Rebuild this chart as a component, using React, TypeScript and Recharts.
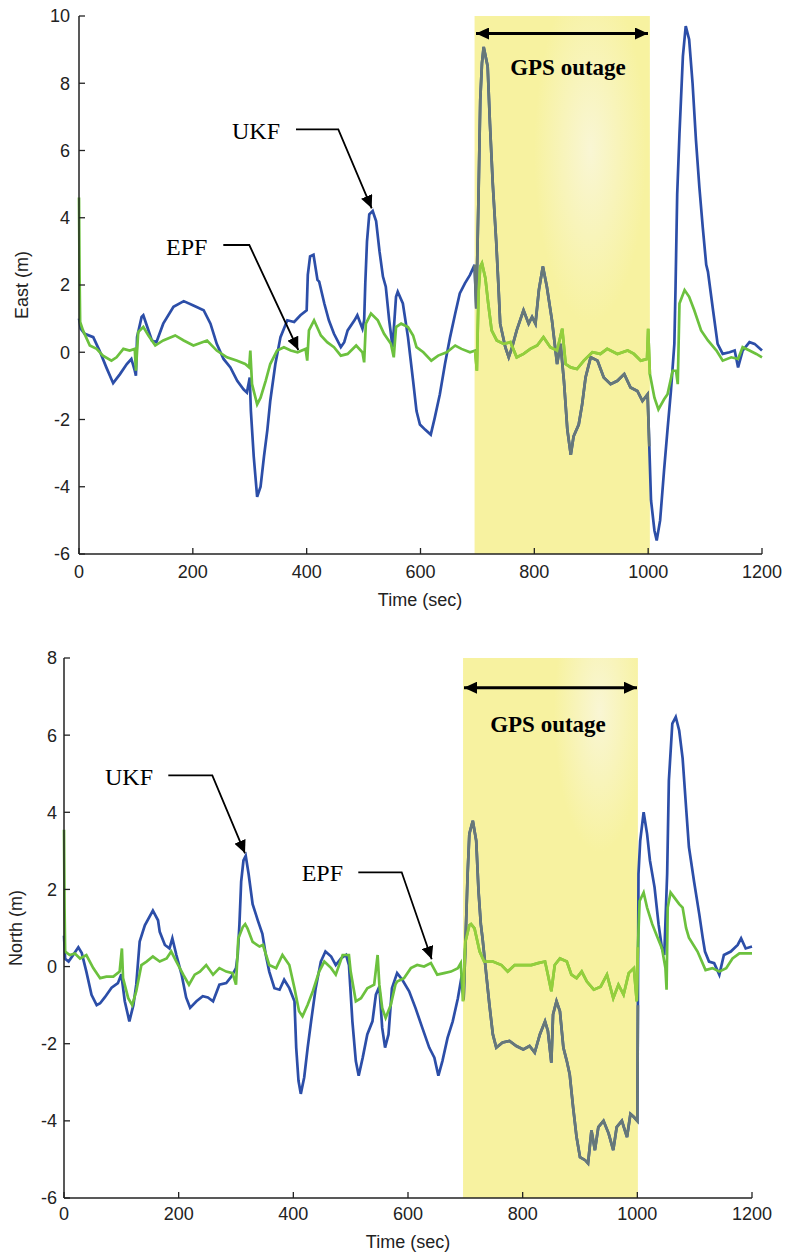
import { LineChart, Line, XAxis, YAxis, ReferenceArea } from 'recharts'

const timeTicks = [0, 200, 400, 600, 800, 1000, 1200]
const eastTicks = [-6, -4, -2, 0, 2, 4, 6, 8, 10]
const northTicks = [-6, -4, -2, 0, 2, 4, 6, 8]

// GPS outage windows (sec)
const eastOutage = [695, 1003]
const northOutage = [696, 1001]

// East error, UKF
const eastUkfTime = [
  0, 3, 10, 25, 36, 48, 60, 72, 84, 92, 98, 100, 102, 110, 113, 120, 128, 136, 148, 166, 184, 201, 219,
  231, 242, 254, 266, 278, 289, 295, 300, 302, 307, 313, 319, 325, 331, 336, 345, 354, 366, 378, 389, 400,
  402, 406, 412, 419, 422, 431, 439, 448, 460, 466, 472, 484, 489, 498, 501, 503, 506, 510, 516, 522, 528,
  534, 539, 545, 551, 557, 560, 569, 578, 587, 593, 599, 608, 618, 625, 634, 643, 652, 661, 669, 678, 687,
  695, 698, 702, 705, 708, 711, 718, 722, 727, 733, 737, 740, 749, 755, 761, 769, 781, 790, 796, 802, 808,
  815, 822, 831, 840, 846, 852, 858, 864, 869, 878, 884, 890, 899, 911, 922, 934, 946, 958, 969, 981, 990,
  999, 1002, 1005, 1011, 1015, 1021, 1028, 1034, 1040, 1046, 1048, 1051, 1055, 1061, 1066, 1072, 1078,
  1084, 1090, 1096, 1102, 1105, 1114, 1122, 1131, 1143, 1152, 1158, 1166, 1178, 1187, 1200,
]
const eastUkfValue = [
  1.0, 0.7, 0.55, 0.45, 0.05, -0.45, -0.92, -0.65, -0.35, -0.2, -0.55, -0.7, 0.45, 1.05, 1.1, 0.75, 0.35,
  0.3, 0.85, 1.35, 1.52, 1.39, 1.25, 0.85, 0.25, -0.2, -0.45, -0.85, -1.1, -1.2, -0.75, -1.75, -3.1, -4.3,
  -4.0, -3.1, -2.3, -1.45, -0.35, 0.45, 0.95, 0.9, 1.1, 1.25, 2.3, 2.85, 2.9, 2.15, 2.1, 1.45, 0.95, 0.55,
  0.15, 0.3, 0.65, 0.95, 1.1, 0.7, 0.95, 2.05, 3.3, 4.1, 4.2, 3.9, 3.0, 2.25, 1.95, 0.95, 0.15, 1.65, 1.8,
  1.45, 0.45, -0.85, -1.75, -2.15, -2.3, -2.45, -1.95, -1.25, -0.35, 0.45, 1.15, 1.75, 2.05, 2.3, 2.6, 1.3,
  4.7, 7.5, 8.6, 9.08, 8.5, 6.8, 5.0, 3.3, 1.95, 0.85, 0.15, -0.15, 0.15, 0.65, 1.25, 0.85, 1.05, 0.85,
  1.85, 2.55, 1.95, 0.95, -0.35, 0.25, -0.85, -2.3, -3.05, -2.5, -2.15, -1.55, -0.75, -0.15, -0.25, -0.75,
  -0.95, -0.85, -0.65, -1.05, -1.15, -1.45, -1.25, -2.8, -4.4, -5.3, -5.6, -5.0, -3.5, -2.3, -1.15, 0.25,
  1.85, 4.7, 6.5, 8.8, 9.7, 9.3, 8.0, 6.3, 4.9, 3.7, 2.6, 2.4, 1.25, 0.25, -0.05, 0.0, 0.05, -0.45, 0.05,
  0.3, 0.25, 0.05,
]

// East error, EPF
const eastEpfTime = [
  0, 1, 2, 7, 19, 31, 42, 57, 66, 78, 89, 98, 100, 104, 113, 122, 134, 148, 169, 184, 201, 225, 242, 260,
  278, 292, 299, 301, 304, 313, 319, 328, 336, 348, 360, 372, 384, 398, 401, 404, 413, 425, 436, 448, 460,
  472, 487, 498, 501, 504, 513, 525, 536, 548, 553, 557, 566, 578, 587, 593, 605, 619, 631, 646, 661, 672,
  687, 696, 699, 702, 705, 708, 714, 719, 725, 734, 746, 758, 769, 781, 793, 805, 816, 828, 840, 849, 855,
  864, 875, 887, 902, 916, 928, 946, 964, 975, 987, 998, 1000, 1003, 1011, 1018, 1028, 1034, 1043, 1049,
  1052, 1055, 1064, 1072, 1081, 1093, 1105, 1120, 1131, 1146, 1158, 1166, 1178, 1190, 1200,
]
const eastEpfValue = [
  4.6, 2.3, 0.9, 0.65, 0.2, 0.1, -0.1, -0.25, -0.15, 0.1, 0.05, 0.1, -0.55, 0.6, 0.75, 0.5, 0.2, 0.35, 0.5,
  0.35, 0.2, 0.35, 0.05, -0.15, -0.25, -0.35, -0.45, 0.05, -0.95, -1.55, -1.35, -0.85, -0.35, 0.05, 0.15,
  0.05, 0.0, 0.1, -0.25, 0.65, 0.95, 0.5, 0.3, 0.15, -0.1, -0.05, 0.2, 0.0, -0.3, 0.85, 1.15, 0.95, 0.55,
  0.25, -0.15, 0.75, 0.85, 0.75, 0.5, 0.15, 0.0, -0.25, -0.1, 0.0, 0.2, 0.1, 0.0, 0.05, -0.55, 1.8, 2.55,
  2.65, 2.2, 1.45, 0.65, 0.35, 0.25, 0.3, -0.15, -0.05, 0.1, 0.2, 0.45, 0.15, 0.05, 0.7, -0.35, -0.45, -0.5,
  -0.25, 0.0, -0.05, 0.1, -0.05, 0.05, -0.05, -0.25, -0.2, 0.7, -0.65, -1.35, -1.7, -1.4, -1.25, -0.55,
  -0.55, -0.95, 1.45, 1.85, 1.65, 1.25, 0.65, 0.35, 0.05, -0.25, -0.15, -0.2, 0.15, 0.05, -0.05, -0.15,
]

// North error, UKF
const northUkfTime = [
  0, 2, 8, 16, 25, 31, 39, 48, 57, 63, 71, 83, 94, 100, 106, 114, 121, 126, 132, 141, 155, 164, 167, 176,
  184, 189, 196, 205, 213, 220, 231, 242, 251, 260, 271, 283, 292, 300, 303, 306, 309, 313, 317, 322, 329,
  338, 346, 352, 358, 367, 376, 384, 393, 402, 405, 409, 413, 419, 425, 431, 439, 448, 456, 466, 474, 483,
  492, 497, 503, 509, 514, 521, 529, 538, 544, 550, 555, 560, 566, 572, 581, 590, 602, 613, 625, 637, 646,
  653, 660, 669, 678, 687, 694, 697, 700, 704, 707, 713, 719, 723, 727, 730, 736, 742, 748, 754, 765, 777,
  789, 801, 812, 821, 830, 839, 844, 850, 853, 859, 865, 871, 877, 882, 888, 894, 900, 909, 914, 920, 926,
  932, 941, 950, 958, 964, 973, 982, 988, 994, 1000, 1001, 1002, 1005, 1011, 1017, 1022, 1030, 1037, 1043,
  1047, 1052, 1055, 1061, 1067, 1073, 1079, 1085, 1090, 1099, 1108, 1114, 1118, 1125, 1134, 1143, 1151,
  1163, 1175, 1181, 1189, 1200,
]
const northUkfValue = [
  0.8, 0.2, 0.13, 0.3, 0.5, 0.35, -0.13, -0.73, -1.0, -0.95, -0.8, -0.55, -0.43, -0.2, -0.9, -1.42, -1.0,
  -0.47, 0.65, 1.07, 1.45, 1.2, 0.9, 0.56, 0.47, 0.73, 0.3, -0.2, -0.8, -1.07, -0.9, -0.77, -0.8, -0.9,
  -0.47, -0.43, -0.26, -0.04, 0.3, 1.1, 2.2, 2.75, 2.87, 2.4, 1.62, 1.2, 0.85, 0.3, -0.13, -0.56, -0.6,
  -0.34, -0.56, -0.9, -2.1, -2.96, -3.3, -2.87, -2.1, -1.42, -0.56, 0.13, 0.39, 0.26, 0.04, 0.21, 0.3, 0.04,
  -1.42, -2.45, -2.83, -2.36, -1.76, -1.42, -0.73, -0.52, -1.59, -2.1, -1.76, -0.56, -0.17, -0.34, -0.64,
  -1.07, -1.59, -2.1, -2.36, -2.83, -2.45, -1.85, -1.42, -0.82, -0.21, -0.85, 0.5, 2.4, 3.44, 3.78, 3.26,
  1.96, 1.1, 0.73, -0.13, -0.99, -1.76, -2.1, -1.97, -1.93, -2.06, -2.15, -2.06, -2.23, -1.76, -1.42, -1.67,
  -2.49, -1.24, -0.9, -1.16, -2.1, -2.45, -2.79, -3.65, -4.42, -4.94, -5.02, -5.1, -4.25, -4.76, -4.16,
  -4.0, -4.33, -4.76, -4.16, -4.0, -4.42, -3.82, -3.9, -4.0, -1.0, 2.4, 3.26, 4.0, 3.44, 2.75, 2.06, 1.1,
  0.47, 0.3, 2.4, 4.82, 6.3, 6.47, 6.12, 5.4, 4.13, 3.1, 2.2, 1.36, 0.75, 0.39, 0.13, 0.09, -0.21, 0.3,
  0.39, 0.56, 0.73, 0.47, 0.52,
]

// North error, EPF
const northEpfTime = [
  0, 1, 2, 10, 19, 28, 39, 51, 63, 74, 86, 97, 101, 103, 112, 119, 126, 135, 144, 155, 167, 179, 187, 196,
  208, 218, 228, 237, 248, 260, 271, 283, 294, 300, 304, 312, 316, 320, 329, 341, 347, 358, 370, 381, 393,
  402, 410, 416, 425, 434, 445, 454, 466, 474, 486, 497, 500, 509, 518, 529, 541, 547, 550, 555, 561, 570,
  578, 581, 593, 605, 616, 628, 640, 651, 663, 675, 687, 692, 696, 700, 707, 710, 716, 725, 733, 748, 763,
  774, 786, 801, 815, 827, 839, 844, 850, 856, 865, 877, 885, 894, 903, 912, 924, 936, 947, 958, 967, 976,
  985, 994, 999, 1001, 1004, 1011, 1017, 1026, 1034, 1043, 1049, 1051, 1053, 1058, 1064, 1073, 1079, 1085,
  1090, 1105, 1119, 1131, 1143, 1155, 1166, 1178, 1189, 1200,
]
const northEpfValue = [
  3.55, 1.5, 0.39, 0.3, 0.34, 0.21, 0.3, -0.04, -0.3, -0.26, -0.26, -0.13, 0.47, -0.3, -0.82, -1.0, -0.64,
  0.04, 0.13, 0.26, 0.13, 0.21, 0.39, 0.13, -0.21, -0.47, -0.21, -0.13, 0.04, -0.21, -0.04, -0.13, -0.17,
  -0.47, 0.73, 1.03, 1.1, 0.99, 0.64, 0.52, 0.56, 0.04, -0.04, 0.3, 0.04, -0.56, -1.16, -1.29, -0.99, -0.64,
  -0.13, 0.13, -0.04, -0.21, 0.3, 0.3, -0.13, -0.9, -0.82, -0.56, -0.47, 0.3, -0.47, -1.07, -1.33, -0.99,
  -0.47, -0.39, -0.3, -0.04, 0.04, 0.0, 0.09, -0.21, -0.17, -0.13, -0.04, 0.09, -0.9, 0.64, 1.07, 1.1, 0.99,
  0.39, 0.13, 0.13, 0.04, -0.13, 0.04, 0.04, 0.04, 0.09, 0.13, -0.21, -0.64, 0.04, 0.21, 0.13, -0.21, -0.3,
  -0.13, -0.39, -0.6, -0.52, -0.21, -0.82, -0.47, -0.73, -0.17, -0.04, -0.9, 0.5, 1.7, 1.92, 1.53, 1.1,
  0.8, 0.47, -0.04, -0.6, 1.53, 1.92, 1.8, 1.62, 1.53, 1.0, 0.75, 0.39, -0.09, -0.04, -0.13, -0.04, 0.21,
  0.34, 0.34, 0.34,
]

const UKF_COLOR = '#2c4ea8'
const EPF_COLOR = '#6cc13e'
const UKF_SHADED = '#677878'
const EPF_SHADED = '#94cf3c'
const AXIS_COLOR = '#222'
const SANS = '"Liberation Sans", Arial, sans-serif'
const SERIF = '"Liberation Serif", "Times New Roman", serif'

type Pt = { t: number; v: number }

function toPoints(time: number[], value: number[]): Pt[] {
  return time.map((t, i) => ({ t, v: value[i] }))
}

function inWindow(pts: Pt[], win: number[]) {
  return pts.filter((p) => p.t >= win[0] && p.t <= win[1])
}

interface PanelProps {
  width: number
  height: number
  margin: { top: number; right: number; bottom: number; left: number }
  yAxisWidth: number
  xAxisHeight: number
  xTickMargin: number
  yTickMargin: number
  yDomain: [number, number]
  yTicks: number[]
  outage: number[]
  fillId: string
  ukf: Pt[]
  epf: Pt[]
}

function ErrorPanel(p: PanelProps) {
  const tickStyle = { fill: AXIS_COLOR, fontSize: 18, fontFamily: SANS }
  const axisLine = { stroke: AXIS_COLOR, strokeWidth: 1.5 }
  const tickLine = { stroke: AXIS_COLOR, strokeWidth: 1.3 }
  return (
    <LineChart width={p.width} height={p.height} margin={p.margin}>
      <XAxis
        dataKey="t"
        type="number"
        domain={[0, 1200]}
        ticks={timeTicks}
        allowDuplicatedCategory={false}
        height={p.xAxisHeight}
        tickSize={-6}
        tickMargin={p.xTickMargin}
        tick={tickStyle}
        axisLine={axisLine}
        tickLine={tickLine}
      />
      <XAxis
        xAxisId="top"
        orientation="top"
        type="number"
        domain={[0, 1200]}
        ticks={timeTicks}
        height={0}
        tickSize={-6}
        tick={false}
        axisLine={axisLine}
        tickLine={tickLine}
      />
      <YAxis
        type="number"
        domain={p.yDomain}
        ticks={p.yTicks}
        width={p.yAxisWidth}
        tickSize={-6}
        tickMargin={p.yTickMargin}
        tick={tickStyle}
        axisLine={axisLine}
        tickLine={tickLine}
      />
      <YAxis
        yAxisId="right"
        orientation="right"
        type="number"
        domain={p.yDomain}
        ticks={p.yTicks}
        width={0}
        tickSize={-6}
        tick={false}
        axisLine={axisLine}
        tickLine={tickLine}
      />
      <ReferenceArea
        x1={p.outage[0]}
        x2={p.outage[1]}
        y1={p.yDomain[0]}
        y2={p.yDomain[1]}
        fill={`url(#${p.fillId})`}
        fillOpacity={1}
        stroke="none"
      />
      <Line data={p.ukf} dataKey="v" type="linear" stroke={UKF_COLOR} strokeWidth={2.7} dot={false} isAnimationActive={false} />
      <Line data={p.epf} dataKey="v" type="linear" stroke={EPF_COLOR} strokeWidth={2.7} dot={false} isAnimationActive={false} />
      <Line data={inWindow(p.ukf, p.outage)} dataKey="v" type="linear" stroke={UKF_SHADED} strokeWidth={2.7} dot={false} isAnimationActive={false} />
      <Line data={inWindow(p.epf, p.outage)} dataKey="v" type="linear" stroke={EPF_SHADED} strokeWidth={2.7} dot={false} isAnimationActive={false} />
    </LineChart>
  )
}

function Annotation({ label, tx, ty, path }: { label: string; tx: number; ty: number; path: string }) {
  return (
    <g>
      <text x={tx} y={ty} fontFamily={SERIF} fontSize={24} fill="#000">
        {label}
      </text>
      <path d={path} fill="none" stroke="#000" strokeWidth={1.8} markerEnd="url(#arrowHead)" />
    </g>
  )
}

export default function App() {
  const eastUkf = toPoints(eastUkfTime, eastUkfValue)
  const eastEpf = toPoints(eastEpfTime, eastEpfValue)
  const northUkf = toPoints(northUkfTime, northUkfValue)
  const northEpf = toPoints(northEpfTime, northEpfValue)

  return (
    <div style={{ position: 'absolute', left: 0, top: 0, width: 785, height: 1257, background: '#fff' }}>
      <div style={{ position: 'absolute', left: 0, top: 0 }}>
        <ErrorPanel
          width={785}
          height={625}
          margin={{ top: 16, right: 23, bottom: 0, left: 0 }}
          yAxisWidth={79}
          xAxisHeight={71}
          xTickMargin={17}
          yTickMargin={15}
          yDomain={[-6, 10]}
          yTicks={eastTicks}
          outage={eastOutage}
          fillId="outageTop"
          ukf={eastUkf}
          epf={eastEpf}
        />
      </div>
      <div style={{ position: 'absolute', left: 0, top: 625 }}>
        <ErrorPanel
          width={785}
          height={632}
          margin={{ top: 33, right: 33, bottom: 0, left: 0 }}
          yAxisWidth={64}
          xAxisHeight={59}
          xTickMargin={15}
          yTickMargin={13}
          yDomain={[-6, 8]}
          yTicks={northTicks}
          outage={northOutage}
          fillId="outageBottom"
          ukf={northUkf}
          epf={northEpf}
        />
      </div>
      <svg
        width={785}
        height={1257}
        style={{ position: 'absolute', left: 0, top: 0, pointerEvents: 'none' }}
      >
        <defs>
          <radialGradient id="outageTop" cx="0.66" cy="0.25" r="0.32">
            <stop offset="0%" stopColor="#f9f6d4" />
            <stop offset="100%" stopColor="#f7f2a0" />
          </radialGradient>
          <radialGradient id="outageBottom" cx="0.78" cy="0.1" r="0.26">
            <stop offset="0%" stopColor="#f9f6d4" />
            <stop offset="100%" stopColor="#f7f2a0" />
          </radialGradient>
          <marker id="arrowHead" markerUnits="userSpaceOnUse" markerWidth={14} markerHeight={12} refX={13} refY={6} orient="auto">
            <path d="M0,0 L13,6 L0,12 Z" fill="#000" />
          </marker>
          <marker id="outageHead" markerUnits="userSpaceOnUse" markerWidth={14} markerHeight={12} refX={13} refY={6} orient="auto-start-reverse">
            <path d="M0,0 L13,6 L0,12 Z" fill="#000" />
          </marker>
        </defs>

        {/* East panel annotations */}
        <line x1={476} y1={33.5} x2={648} y2={33.5} stroke="#000" strokeWidth={3} markerStart="url(#outageHead)" markerEnd="url(#outageHead)" />
        <text x={568} y={75} textAnchor="middle" fontFamily={SERIF} fontWeight="bold" fontSize={23} fill="#000">
          GPS outage
        </text>
        <Annotation label="UKF" tx={232} ty={139} path="M296,129.3 L338.3,129.3 L371.7,208.3" />
        <Annotation label="EPF" tx={166} ty={255} path="M223.3,245 L249.3,245 L298.3,350" />
        <text x={420} y={606} textAnchor="middle" fontFamily={SANS} fontSize={18} fill={AXIS_COLOR}>
          Time (sec)
        </text>
        <text
          x={22}
          y={285}
          textAnchor="middle"
          dominantBaseline="central"
          transform="rotate(-90, 22, 285)"
          fontFamily={SANS}
          fontSize={18}
          fill={AXIS_COLOR}
        >
          East (m)
        </text>

        {/* North panel annotations */}
        <line x1={464} y1={687.7} x2={637} y2={687.7} stroke="#000" strokeWidth={3} markerStart="url(#outageHead)" markerEnd="url(#outageHead)" />
        <text x={548} y={731.7} textAnchor="middle" fontFamily={SERIF} fontWeight="bold" fontSize={23} fill="#000">
          GPS outage
        </text>
        <Annotation label="UKF" tx={105} ty={785} path="M168.3,775.3 L212.3,775.3 L245,853.3" />
        <Annotation label="EPF" tx={301.7} ty={880.7} path="M358.3,872.3 L401.7,872.3 L431.7,959.3" />
        <text x={408} y={1248} textAnchor="middle" fontFamily={SANS} fontSize={18} fill={AXIS_COLOR}>
          Time (sec)
        </text>
        <text
          x={16}
          y={928}
          textAnchor="middle"
          dominantBaseline="central"
          transform="rotate(-90, 16, 928)"
          fontFamily={SANS}
          fontSize={18}
          fill={AXIS_COLOR}
        >
          North (m)
        </text>
      </svg>
    </div>
  )
}
